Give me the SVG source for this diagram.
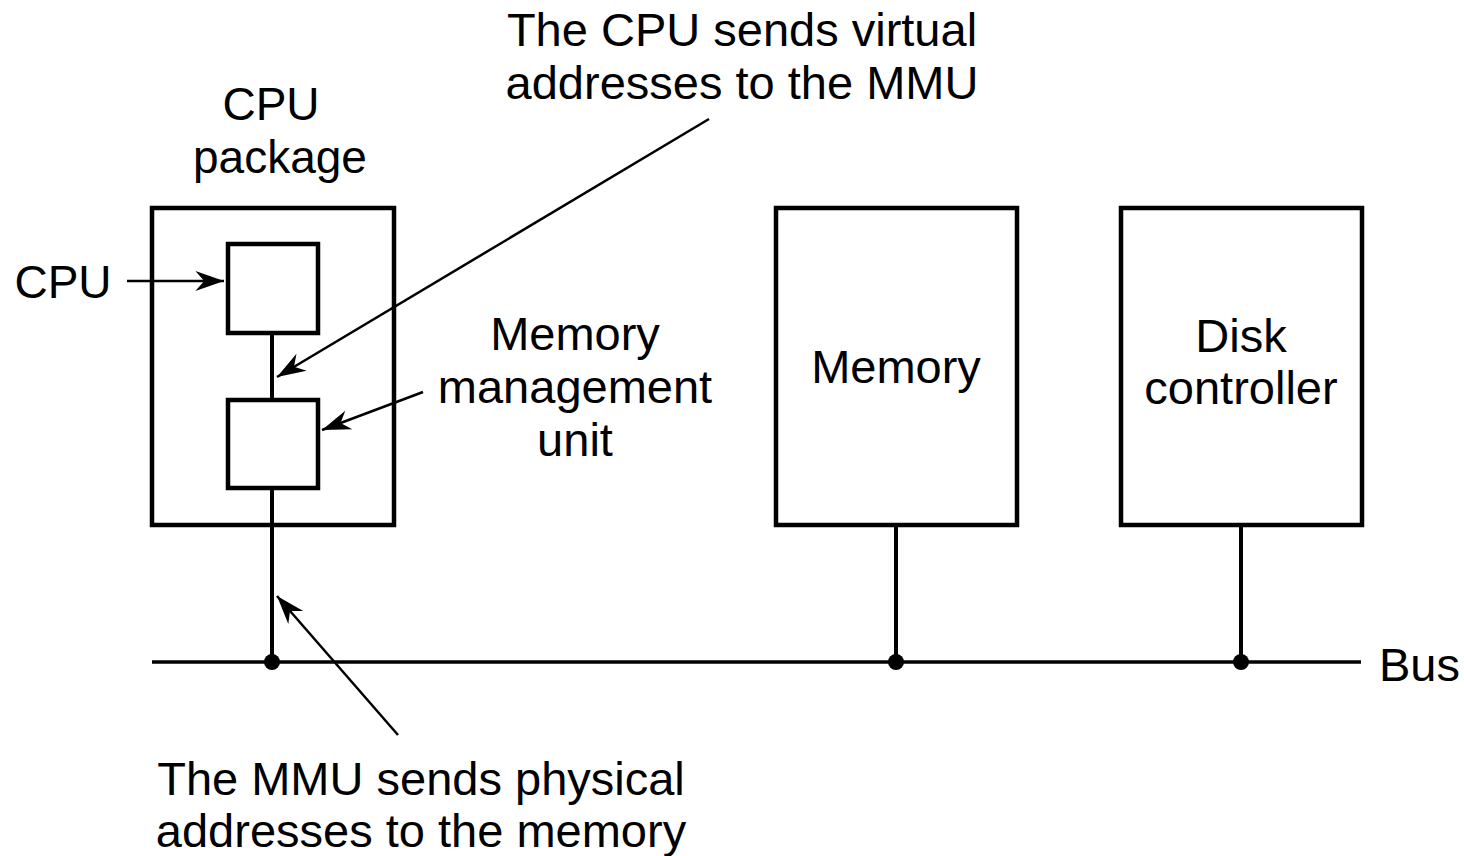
<svg xmlns="http://www.w3.org/2000/svg" width="1464" height="856" viewBox="0 0 1464 856">
<style>
.box{fill:none;stroke:#000;stroke-width:4.5}
.wire{stroke:#000;stroke-width:4;fill:none}
.arr{stroke:#000;stroke-width:2.5;fill:none;marker-end:url(#ah)}
text{font-family:"Liberation Sans",Arial,sans-serif;font-size:47px;fill:#000}
.m{text-anchor:middle}
</style>
<defs>
<marker id="ah" markerUnits="userSpaceOnUse" markerWidth="32" markerHeight="22" viewBox="-27 -10 29 20" refX="0" refY="0" orient="auto">
<path d="M0,0 L-26,-9 L-18,0 L-26,9 Z" fill="#000"/>
</marker>
</defs>
<rect width="1464" height="856" fill="#fff"/>
<g id="cpu-package">
<rect class="box" x="152" y="208" width="242" height="317"/>
<text x="271" y="120" class="m" style="font-size:46px">CPU</text>
<text x="280" y="173" class="m" style="font-size:46px">package</text>
</g>
<g id="cpu">
<rect class="box" x="228" y="244" width="90" height="89"/>
<text x="63" y="298" class="m" style="font-size:46px">CPU</text>
</g>
<g id="mmu">
<rect class="box" x="228" y="400" width="90" height="88"/>
<text x="575" y="350" class="m">Memory</text>
<text x="575" y="403" class="m">management</text>
<text x="575" y="456" class="m">unit</text>
</g>
<g id="memory">
<rect class="box" x="776" y="208" width="241" height="317"/>
<text x="896" y="383" class="m">Memory</text>
</g>
<g id="disk">
<rect class="box" x="1121" y="208" width="241" height="317"/>
<text x="1241" y="352" class="m">Disk</text>
<text x="1241" y="404" class="m">controller</text>
</g>
<g id="bus">
<text x="1379" y="681">Bus</text>
</g>
<g id="note-virtual">
<text x="742" y="46" class="m">The CPU sends virtual</text>
<text x="742" y="99" class="m">addresses to the MMU</text>
</g>
<g id="note-physical">
<text x="421" y="795" class="m">The MMU sends physical</text>
<text x="421" y="847" class="m">addresses to the memory</text>
</g>
<g id="connectors">
<line class="wire" x1="152" y1="662" x2="1361" y2="662" style="stroke-width:3.5"/>
<line class="wire" x1="272" y1="333" x2="272" y2="400"/>
<line class="wire" x1="272" y1="488" x2="272" y2="662"/>
<line class="wire" x1="896" y1="525" x2="896" y2="662"/>
<line class="wire" x1="1241" y1="525" x2="1241" y2="662"/>
<circle cx="272" cy="662" r="8"/>
<circle cx="896" cy="662" r="8"/>
<circle cx="1241" cy="662" r="8"/>
<line class="arr" x1="127" y1="281" x2="224" y2="281"/>
<line class="arr" x1="709" y1="119" x2="277" y2="377"/>
<line class="arr" x1="423" y1="392" x2="322" y2="430"/>
<line class="arr" x1="398" y1="735" x2="277" y2="596"/>
</g>
</svg>
